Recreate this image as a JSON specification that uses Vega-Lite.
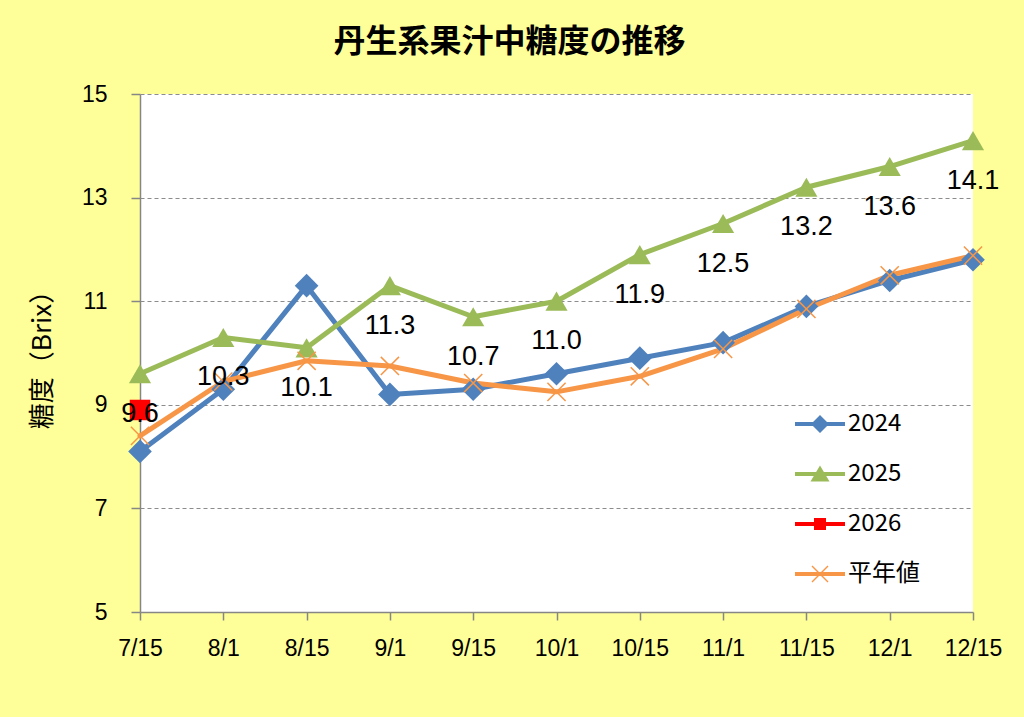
{
  "$schema": "https://vega.github.io/schema/vega-lite/v6.json",
  "width": 833,
  "height": 518,
  "autosize": "none",
  "padding": {"left": 140, "top": 94, "right": 51, "bottom": 105},
  "background": "#FFFF99",
  "title": {
    "text": "丹生系果汁中糖度の推移",
    "font": "Noto Sans CJK JP",
    "fontSize": 32,
    "fontWeight": "bold",
    "color": "#000000",
    "anchor": "middle",
    "dx": -47,
    "offset": 24
  },
  "config": {
    "view": {"fill": "#FFFFFF", "stroke": null},
    "axis": {"domainColor": "#868686", "domainWidth": 1.5, "tickColor": "#868686", "tickWidth": 1.5, "labelColor": "#000000", "titleColor": "#000000"}
  },
  "data": {
    "values": [
      {"date": "7/15", "series": "2024", "value": 8.1},
      {"date": "8/1", "series": "2024", "value": 9.3},
      {"date": "8/15", "series": "2024", "value": 11.3},
      {"date": "9/1", "series": "2024", "value": 9.2},
      {"date": "9/15", "series": "2024", "value": 9.3},
      {"date": "10/1", "series": "2024", "value": 9.6},
      {"date": "10/15", "series": "2024", "value": 9.9},
      {"date": "11/1", "series": "2024", "value": 10.2},
      {"date": "11/15", "series": "2024", "value": 10.9},
      {"date": "12/1", "series": "2024", "value": 11.4},
      {"date": "12/15", "series": "2024", "value": 11.8},
      {"date": "7/15", "series": "2025", "value": 9.6},
      {"date": "8/1", "series": "2025", "value": 10.3},
      {"date": "8/15", "series": "2025", "value": 10.1},
      {"date": "9/1", "series": "2025", "value": 11.3},
      {"date": "9/15", "series": "2025", "value": 10.7},
      {"date": "10/1", "series": "2025", "value": 11.0},
      {"date": "10/15", "series": "2025", "value": 11.9},
      {"date": "11/1", "series": "2025", "value": 12.5},
      {"date": "11/15", "series": "2025", "value": 13.2},
      {"date": "12/1", "series": "2025", "value": 13.6},
      {"date": "12/15", "series": "2025", "value": 14.1},
      {"date": "7/15", "series": "2026", "value": 8.9},
      {"date": "7/15", "series": "平年値", "value": 8.4},
      {"date": "8/1", "series": "平年値", "value": 9.45},
      {"date": "8/15", "series": "平年値", "value": 9.85},
      {"date": "9/1", "series": "平年値", "value": 9.75},
      {"date": "9/15", "series": "平年値", "value": 9.42},
      {"date": "10/1", "series": "平年値", "value": 9.25},
      {"date": "10/15", "series": "平年値", "value": 9.55},
      {"date": "11/1", "series": "平年値", "value": 10.08},
      {"date": "11/15", "series": "平年値", "value": 10.85},
      {"date": "12/1", "series": "平年値", "value": 11.5},
      {"date": "12/15", "series": "平年値", "value": 11.88}
    ]
  },
  "encoding": {
    "x": {
      "field": "date",
      "type": "ordinal",
      "sort": ["7/15", "8/1", "8/15", "9/1", "9/15", "10/1", "10/15", "11/1", "11/15", "12/1", "12/15"],
      "scale": {"type": "point", "padding": 0},
      "axis": {"title": null, "labelAngle": 0, "labelFont": "Liberation Sans", "labelFontSize": 23, "tickSize": 8, "labelPadding": 17, "grid": false}
    },
    "y": {
      "field": "value",
      "type": "quantitative",
      "scale": {"domain": [5, 15], "nice": false, "zero": false},
      "axis": {
        "title": "糖度（Brix）",
        "titleFont": "Noto Sans CJK JP",
        "titleFontSize": 26,
        "titleFontWeight": "normal",
        "titlePadding": 26,
        "values": [5, 7, 9, 11, 13, 15],
        "labelFont": "Liberation Sans",
        "labelFontSize": 23,
        "labelPadding": 24,
        "tickSize": 9,
        "grid": true,
        "gridColor": "#8C8C8C",
        "gridDash": [4, 3],
        "gridWidth": 1.2
      }
    }
  },
  "layer": [
    {
      "mark": {"type": "line", "strokeWidth": 5, "strokeCap": "round", "strokeJoin": "round"},
      "encoding": {
        "color": {"field": "series", "type": "nominal", "scale": {"domain": ["2024", "2025", "2026", "平年値"], "range": ["#4F81BD", "#9BBB59", "#FF0000", "#F79646"]}, "legend": null}
      }
    },
    {
      "transform": [{"filter": "datum.series != '平年値'"}],
      "mark": {"type": "point", "filled": true, "opacity": 1},
      "encoding": {
        "color": {"field": "series", "type": "nominal", "scale": {"domain": ["2024", "2025", "2026", "平年値"], "range": ["#4F81BD", "#9BBB59", "#FF0000", "#F79646"]}, "legend": null},
        "shape": {"field": "series", "type": "nominal", "scale": {"domain": ["2024", "2025", "2026"], "range": ["diamond", "triangle-up", "square"]}, "legend": null},
        "size": {"field": "series", "type": "nominal", "scale": {"domain": ["2024", "2025", "2026"], "range": [560, 420, 140]}, "legend": null}
      }
    },
    {
      "transform": [{"filter": "datum.series == '平年値'"}],
      "mark": {"type": "point", "filled": false, "opacity": 1, "strokeWidth": 1.5, "color": "#F79646", "shape": "M-1,-1L1,1M-1,1L1,-1", "size": 330},
      "encoding": {}
    },
    {
      "transform": [{"filter": "datum.series == '2025'"}],
      "mark": {"type": "text", "dy": 40, "fontSize": 27, "font": "Liberation Sans", "color": "#000000"},
      "encoding": {"text": {"field": "value", "type": "quantitative", "format": ".1f"}}
    },
    {
      "transform": [{"filter": "false"}],
      "mark": {"type": "point", "filled": true, "opacity": 1, "size": 2500},
      "encoding": {
        "color": {"field": "series", "type": "nominal", "scale": {"domain": ["2024", "2025", "2026", "平年値"], "range": ["#4F81BD", "#9BBB59", "#FF0000", "#F79646"]}},
        "shape": {
          "field": "series",
          "type": "nominal",
          "scale": {
            "domain": ["2024", "2025", "2026", "平年値"],
            "range": [
              "M-1,-0.08H1V0.08H-1Z M0,-0.36L0.36,0L0,0.36L-0.36,0Z",
              "M-1,-0.08H1V0.08H-1Z M0,-0.34L0.38,0.3H-0.38Z",
              "M-1,-0.08H1V0.08H-1Z M-0.24,-0.24H0.24V0.24H-0.24Z",
              "M-1,-0.08H1V0.08H-1Z M-0.34,-0.3L-0.3,-0.34L0.34,0.3L0.3,0.34Z M-0.34,0.3L0.3,-0.34L0.34,-0.3L-0.3,0.34Z"
            ]
          },
          "legend": {
            "title": null,
            "orient": "none",
            "legendX": 655,
            "legendY": 305,
            "padding": 0,
            "symbolSize": 2500,
            "symbolStrokeWidth": 0,
            "labelFont": "Noto Sans CJK JP",
            "labelFontSize": 24,
            "labelColor": "#000000",
            "labelOffset": 3,
            "rowPadding": 13
          }
        }
      }
    }
  ],
  "resolve": {"scale": {"color": "independent", "shape": "independent", "size": "independent"}}
}
